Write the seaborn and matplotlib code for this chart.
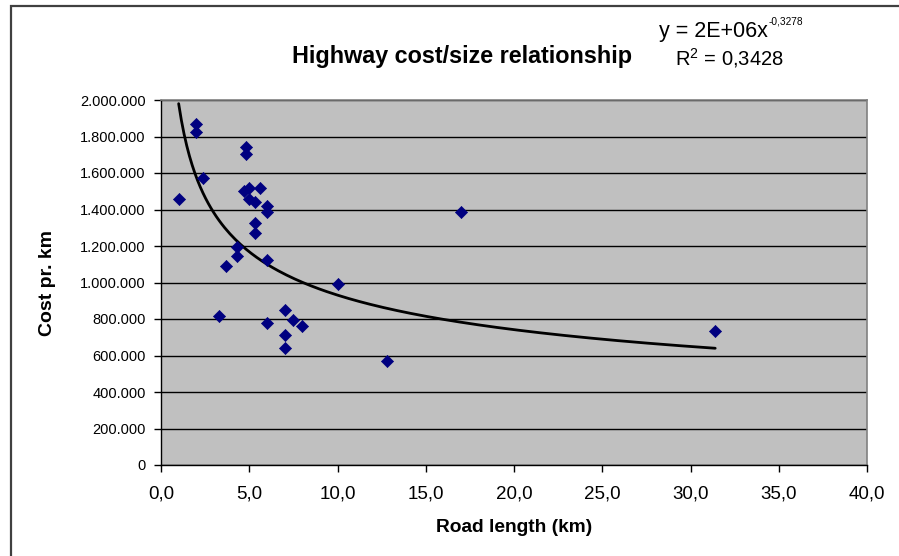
import numpy as np
import pandas as pd
import matplotlib
matplotlib.use('Agg')
import matplotlib.pyplot as plt
import matplotlib.ticker as mticker
import seaborn as sns

road_length = [1.0, 2.0, 2.0, 2.4, 3.3, 3.7, 4.3, 4.3, 4.7, 4.8, 4.8, 5.0, 5.0, 5.3, 5.3,
               5.3, 5.6, 6.0, 6.0, 6.0, 6.0, 7.0, 7.0, 7.0, 7.5, 8.0, 10.0, 12.8, 17.0, 31.4]
cost_per_km = [1460000, 1868000, 1826000, 1571000, 816000, 1092000, 1196000, 1147000,
               1501000, 1741000, 1704000, 1516000, 1457000, 1439000, 1324000, 1273000,
               1516000, 1421000, 1384000, 1123000, 780000, 849000, 714000, 643000,
               794000, 762000, 990000, 571000, 1386000, 736000]

# power trendline: y = a * x^b (label shows a rounded to 2E+06)
trend_a = 1.98e6
trend_b = -0.3278
r_squared = '0,3428'

df = pd.DataFrame({'length': road_length, 'cost': cost_per_km})

sns.set_style('white')
plt.rcParams['font.family'] = ['Liberation Sans', 'DejaVu Sans']
plt.rcParams['text.color'] = 'black'
plt.rcParams['axes.labelcolor'] = 'black'
plt.rcParams['xtick.color'] = 'black'
plt.rcParams['ytick.color'] = 'black'

fig = plt.figure(figsize=(8.99, 5.56), dpi=100)
ax = fig.add_axes([161 / 899, 1 - 465 / 556, (867 - 161) / 899, (465 - 100) / 556])
ax.set_facecolor('#C0C0C0')

# trendline from smallest to largest road length
tx = np.linspace(df['length'].min(), df['length'].max(), 200)
trend = pd.DataFrame({'x': tx, 'y': trend_a * tx ** trend_b})
sns.lineplot(data=trend, x='x', y='y', color='black', linewidth=2, ax=ax, zorder=3)

sns.scatterplot(data=df, x='length', y='cost', marker='D', color='#000080',
                edgecolor='#000080', s=38, ax=ax, zorder=4)

ax.set_xlim(0, 40)
ax.set_ylim(0, 2000000)
ax.xaxis.set_major_locator(mticker.MultipleLocator(5))
ax.yaxis.set_major_locator(mticker.MultipleLocator(200000))
ax.xaxis.set_major_formatter(mticker.FuncFormatter(lambda v, p: f'{v:.1f}'.replace('.', ',')))
ax.yaxis.set_major_formatter(mticker.FuncFormatter(lambda v, p: f'{int(v):,}'.replace(',', '.')))

ax.grid(axis='y', color='black', linewidth=1)
ax.grid(axis='x', visible=False)
ax.set_axisbelow(True)

for side in ['top', 'right']:
    ax.spines[side].set_color('#808080')
    ax.spines[side].set_linewidth(1.2)
for side in ['left', 'bottom']:
    ax.spines[side].set_color('black')
    ax.spines[side].set_linewidth(1)

ax.tick_params(axis='both', which='major', direction='out', length=5, width=1,
               color='black', bottom=True, left=True)
ax.tick_params(axis='x', labelsize=13.5, pad=10)
ax.tick_params(axis='y', labelsize=10.5, pad=6)

ax.set_xlabel('Road length (km)', fontsize=13.8, fontweight='bold', labelpad=12)
ax.set_ylabel('Cost pr. km', fontsize=14, fontweight='bold')
ax.yaxis.set_label_coords(-0.149, 0.5)

fig.text(462 / 899, 1 - 57 / 556, 'Highway cost/size relationship', fontsize=16.8,
         fontweight='bold', ha='center', va='center')
fig.text(768 / 899, 1 - 37 / 556, 'y = 2E+06x', fontsize=15.5,
         ha='right', va='baseline')
fig.text(769 / 899, 1 - 24 / 556, '-0,3278', fontsize=7.3,
         ha='left', va='baseline')
fig.text(729 / 899, 1 - 58 / 556, 'R$^{\\mathregular{2}}$ = ' + r_squared, fontsize=14.5,
         ha='center', va='center')

# outer chart border (partly cut off on the right and bottom)
fig.add_artist(plt.Rectangle((11 / 899, -0.05), 1.0, 1 - 6 / 556 + 0.05,
                             transform=fig.transFigure, fill=False,
                             edgecolor='#404040', linewidth=1.6))

fig.savefig('out.png', dpi=100)
